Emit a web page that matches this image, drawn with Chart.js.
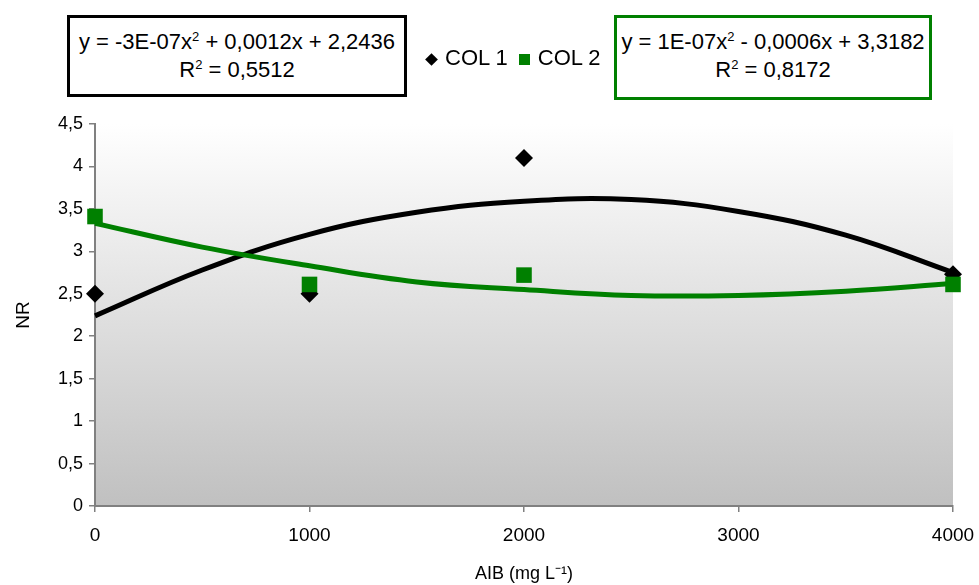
<!DOCTYPE html>
<html>
<head>
<meta charset="utf-8">
<script src="https://cdn.jsdelivr.net/npm/chart.js"></script>
<style>
  body { margin: 0; background: #fff; font-family: "Liberation Sans", Arial, sans-serif; }
  #wrap { position: relative; width: 979px; height: 585px; }
  canvas { position: absolute; left: 0; top: 0; }
  .eq { position: absolute; top: 15px; height: 82px; box-sizing: border-box; border: 3px solid #000;
        font-size: 22px; line-height: 28px; text-align: center; padding-top: 10px; color: #000; background: #fff; white-space: nowrap; }
  #legend { position: absolute; top: 45px; left: 424px; font-size: 22px; line-height: 26px; color: #000; white-space: nowrap; }
  .mk { display: inline-block; vertical-align: middle; }
  .dia { width: 9px; height: 9px; background: #000; transform: rotate(45deg); margin-left: 3px; margin-right: 9px; }
  .sq { width: 11px; height: 11px; background: #008000; margin-left: 11px; margin-right: 8px; }
  sup { font-size: 13px; vertical-align: 8px; line-height: 0; }
</style>
</head>
<body>
<div id="wrap">
  <canvas id="myChart" width="979" height="585"></canvas>
  <div class="eq" style="left:67px;width:340px;">y = -3E-07x<sup>2</sup> + 0,0012x + 2,2436<br>R<sup>2</sup> = 0,5512</div>
  <div id="legend"><span class="mk dia"></span>COL 1<span class="mk sq"></span>COL 2</div>
  <div class="eq" style="left:614px;width:318px;height:85px;border-color:#008000;">y = 1E-07x<sup>2</sup> - 0,0006x + 3,3182<br>R<sup>2</sup> = 0,8172</div>
</div>
<script>
// measured points
const doses = [0, 1000, 2000, 4000];
const col1 = [2.5, 2.5, 4.1, 2.73];
const col2 = [3.41, 2.61, 2.72, 2.61];

// trend curves, every 500
const trendX = [0, 500, 1000, 1500, 2000, 2500, 3000, 3500, 4000];
const trend1 = [2.24, 2.78, 3.20, 3.46, 3.59, 3.61, 3.47, 3.19, 2.75];
const trend2 = [3.33, 3.05, 2.83, 2.64, 2.55, 2.48, 2.48, 2.53, 2.62];

const yTicks = [0, 0.5, 1, 1.5, 2, 2.5, 3, 3.5, 4, 4.5];

function pts(xs, ys) {
  return xs.map((x, i) => ({x: x, y: ys[i]}));
}

// grey gradient behind the plot
const bgPlugin = {
  id: 'bg',
  beforeDraw(chart) {
    let a = chart.chartArea;
    let c = chart.ctx;
    let g = c.createLinearGradient(0, a.top, 0, a.bottom);
    g.addColorStop(0, '#ffffff');
    g.addColorStop(1, '#c0c0c0');
    c.save();
    c.fillStyle = g;
    c.fillRect(a.left, a.top, a.right - a.left, a.bottom - a.top);
    c.restore();
  }
};

var ctx = document.getElementById('myChart').getContext('2d');

var myChart = new Chart(ctx, {
  type: 'scatter',
  data: {
    datasets: [
      {label: 'COL 2', data: pts(doses, col2), pointStyle: 'rect', pointRadius: 11,
       backgroundColor: '#008000', borderColor: '#008000', borderWidth: 0, order: 0, clip: false},
      {label: 'COL 1', data: pts(doses, col1), pointStyle: 'rectRot', pointRadius: 9,
       backgroundColor: '#000', borderColor: '#000', borderWidth: 0, order: 1, clip: false},
      {type: 'line', label: 'trend 2', data: pts(trendX, trend2), borderColor: '#008000', borderWidth: 5,
       pointRadius: 0, tension: 0.4, fill: false, order: 2, clip: false},
      {type: 'line', label: 'trend 1', data: pts(trendX, trend1), borderColor: '#000', borderWidth: 5,
       pointRadius: 0, tension: 0.4, fill: false, order: 3, clip: false}
    ]
  },
  options: {
    responsive: false,
    animation: false,
    layout: {padding: {top: 124, right: 26, left: 0, bottom: 0}},
    plugins: {legend: {display: false}, tooltip: {enabled: false}},
    scales: {
      x: {
        type: 'linear', min: 0, max: 4000,
        ticks: {stepSize: 1000, color: '#000', font: {family: 'Liberation Sans', size: 19}, padding: 12,
                callback: v => String(v)},
        grid: {drawOnChartArea: false, color: '#808080', tickLength: 6, lineWidth: 1.5},
        border: {color: '#808080', width: 2},
        title: {display: true, text: 'AIB (mg L⁻¹)', color: '#000', font: {family: 'Liberation Sans', size: 18}, padding: {top: 4, bottom: 0}},
        afterFit: s => { s.height = 79; s.paddingLeft = 0; s.paddingRight = 0; }
      },
      y: {
        min: 0, max: 4.5,
        afterBuildTicks: s => { s.ticks = yTicks.map(v => ({value: v})); },
        ticks: {color: '#000', font: {family: 'Liberation Sans', size: 18}, padding: 6,
                callback: v => String(v).replace('.', ',')},
        grid: {drawOnChartArea: false, color: '#808080', tickLength: 6, lineWidth: 1.5},
        border: {color: '#808080', width: 2},
        title: {display: true, text: 'NR', color: '#000', font: {family: 'Liberation Sans', size: 19}, padding: {top: 12, bottom: 0}},
        afterFit: s => { s.width = 95; }
      }
    }
  },
  plugins: [bgPlugin]
});
</script>
</body>
</html>
